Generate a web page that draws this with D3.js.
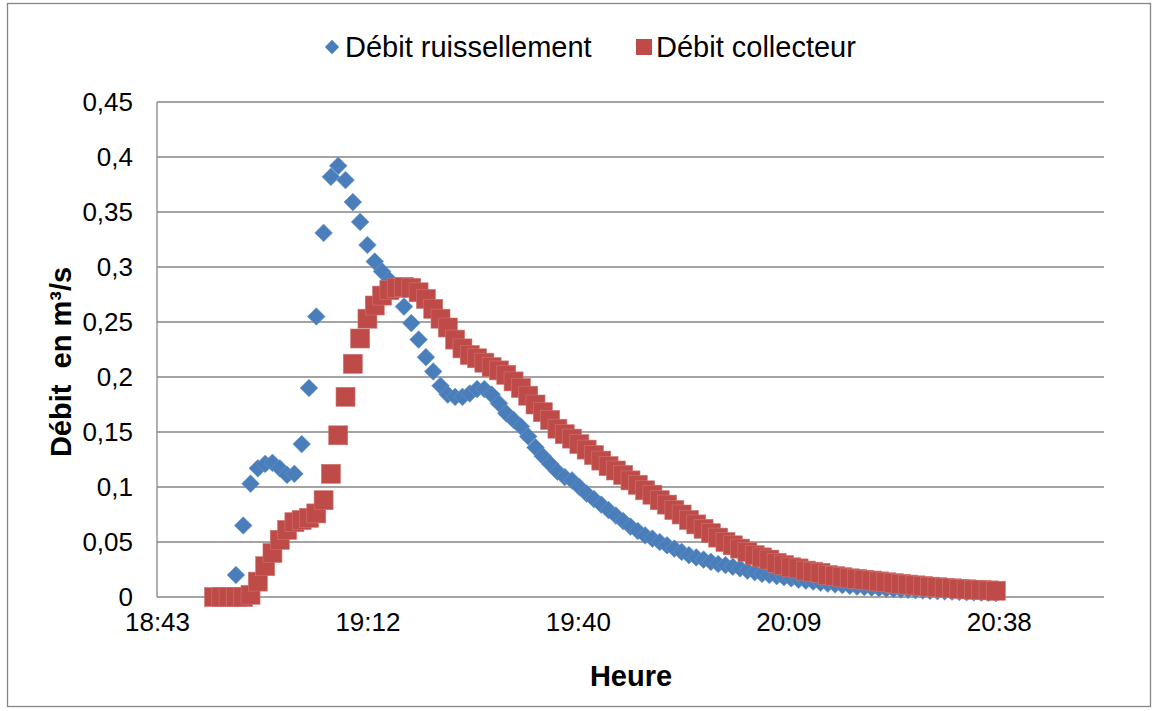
<!DOCTYPE html>
<html>
<head>
<meta charset="utf-8">
<script src="https://cdn.jsdelivr.net/npm/d3@7"></script>
<style>
  body { margin: 0; background: #fff; }
  text { font-family: Arial, "Liberation Sans", sans-serif; fill: #000; }
</style>
</head>
<body>
<script>
// relevés minute par minute
const times = [
  "18:51","18:52","18:53","18:54","18:55","18:56","18:57","18:58","18:59",
  "19:00","19:01","19:02","19:03","19:04","19:05","19:06","19:07","19:08","19:09",
  "19:10","19:11","19:12","19:13","19:14","19:15","19:16","19:17","19:18","19:19",
  "19:20","19:21","19:22","19:23","19:24","19:25","19:26","19:27","19:28","19:29",
  "19:30","19:31","19:32","19:33","19:34","19:35","19:36","19:37","19:38","19:39",
  "19:40","19:41","19:42","19:43","19:44","19:45","19:46","19:47","19:48","19:49",
  "19:50","19:51","19:52","19:53","19:54","19:55","19:56","19:57","19:58","19:59",
  "20:00","20:01","20:02","20:03","20:04","20:05","20:06","20:07","20:08","20:09",
  "20:10","20:11","20:12","20:13","20:14","20:15","20:16","20:17","20:18","20:19",
  "20:20","20:21","20:22","20:23","20:24","20:25","20:26","20:27","20:28","20:29",
  "20:30","20:31","20:32","20:33","20:34","20:35","20:36","20:37","20:38"
];

const ruissellement = [
  0, 0, 0, 0.020, 0.065, 0.103, 0.117, 0.121, 0.122, 0.117,
  0.111, 0.112, 0.139, 0.190, 0.255, 0.331, 0.382, 0.392, 0.379, 0.359,
  0.341, 0.320, 0.305, 0.296, 0.288, 0.278, 0.264, 0.249, 0.234, 0.218,
  0.205, 0.192, 0.184, 0.182, 0.182, 0.185, 0.189, 0.189, 0.184, 0.176,
  0.167, 0.161, 0.155, 0.146, 0.136, 0.128, 0.121, 0.114, 0.109, 0.106,
  0.100, 0.094, 0.089, 0.084, 0.079, 0.074, 0.069, 0.064, 0.060, 0.056,
  0.053, 0.050, 0.047, 0.044, 0.041, 0.038, 0.036, 0.034, 0.032, 0.030,
  0.029, 0.0275, 0.026, 0.024, 0.0225, 0.021, 0.020, 0.019, 0.018, 0.017,
  0.0157, 0.0148, 0.014, 0.013, 0.0122, 0.0115, 0.0108, 0.0101, 0.0095, 0.009,
  0.0085, 0.008, 0.0076, 0.0072, 0.0068, 0.0065, 0.0062, 0.0059, 0.0056, 0.0053,
  0.0051, 0.0049, 0.0046, 0.0044, 0.0042, 0.004, 0.0037, 0.0035
];

const collecteur = [
  0, 0, 0, 0, 0, 0.002, 0.014, 0.028, 0.040, 0.052,
  0.061, 0.068, 0.070, 0.072, 0.076, 0.088, 0.112, 0.147, 0.182, 0.212,
  0.235, 0.253, 0.265, 0.274, 0.279, 0.281, 0.282, 0.281, 0.277, 0.271,
  0.262, 0.253, 0.245, 0.234, 0.226, 0.220, 0.217, 0.213, 0.209, 0.206,
  0.202, 0.196, 0.190, 0.183, 0.175, 0.168, 0.161, 0.153, 0.148, 0.144,
  0.139, 0.134, 0.129, 0.124, 0.119, 0.115, 0.111, 0.106, 0.102, 0.097,
  0.093, 0.088, 0.084, 0.079, 0.075, 0.070, 0.066, 0.062, 0.058, 0.054,
  0.050, 0.047, 0.044, 0.041, 0.038, 0.036, 0.034, 0.031, 0.029, 0.027,
  0.026, 0.024, 0.023, 0.022, 0.020, 0.019, 0.018, 0.017, 0.0165, 0.0157,
  0.015, 0.0142, 0.0134, 0.0126, 0.012, 0.0113, 0.0106, 0.010, 0.0094, 0.0089,
  0.0084, 0.0079, 0.0074, 0.0070, 0.0066, 0.0063, 0.006, 0.0057
];

// axe des temps en fraction de jour (comme Excel)
const xTicks = [0.78, 0.80, 0.82, 0.84, 0.86];
const xTickLabels = ["18:43", "19:12", "19:40", "20:09", "20:38"];
const yTicks = [0, 0.05, 0.1, 0.15, 0.2, 0.25, 0.3, 0.35, 0.4, 0.45];
const yTickLabels = ["0", "0,05", "0,1", "0,15", "0,2", "0,25", "0,3", "0,35", "0,4", "0,45"];

const W = 1157, H = 711;
const plot = { left: 157, right: 1104, top: 102, bottom: 597 };

const blue = "#4a7ebb", red = "#be4b48";

const toDay = s => {
  const [h, m] = s.split(":").map(Number);
  return (h * 60 + m) / 1440;
};

const x = d3.scaleLinear().domain([0.78, 0.87]).range([plot.left, plot.right]);
const y = d3.scaleLinear().domain([0, 0.45]).range([plot.bottom, plot.top]);

const svg = d3.select("body").append("svg")
  .attr("width", W)
  .attr("height", H);

// cadre du graphique
svg.append("rect")
  .attr("x", 7.5).attr("y", 3.5)
  .attr("width", 1143).attr("height", 703)
  .attr("fill", "#fff")
  .attr("stroke", "#868686")
  .attr("stroke-width", 1.3);

// quadrillage horizontal
svg.append("g")
  .selectAll("line")
  .data(yTicks)
  .join("line")
  .attr("x1", plot.left).attr("x2", plot.right)
  .attr("y1", d => y(d)).attr("y2", d => y(d))
  .attr("stroke", "#868686")
  .attr("stroke-width", 1.3);

// axe vertical
svg.append("line")
  .attr("x1", plot.left).attr("x2", plot.left)
  .attr("y1", plot.top).attr("y2", plot.bottom)
  .attr("stroke", "#868686")
  .attr("stroke-width", 1.3);

const yAxis = d3.axisLeft(y)
  .tickValues(yTicks)
  .tickFormat((d, i) => yTickLabels[i])
  .tickSize(0)
  .tickPadding(24);

svg.append("g")
  .attr("transform", "translate(" + plot.left + ",0)")
  .call(yAxis)
  .call(g => g.select(".domain").remove())
  .selectAll("text")
  .attr("font-size", 26)
  .attr("font-family", "Arial, 'Liberation Sans', sans-serif")
  .attr("fill", "#000");

const xAxis = d3.axisBottom(x)
  .tickValues(xTicks)
  .tickFormat((d, i) => xTickLabels[i])
  .tickSize(0)
  .tickPadding(16);

svg.append("g")
  .attr("transform", "translate(0," + plot.bottom + ")")
  .call(xAxis)
  .call(g => g.select(".domain").remove())
  .selectAll("text")
  .attr("font-size", 26)
  .attr("font-family", "Arial, 'Liberation Sans', sans-serif")
  .attr("fill", "#000");

// séries
const diamond = d3.symbol().type(d3.symbolDiamond2).size(200);

svg.append("g")
  .selectAll("path")
  .data(times.map((t, i) => ({ t: toDay(t), v: ruissellement[i] })))
  .join("path")
  .attr("d", diamond)
  .attr("transform", d => "translate(" + x(d.t) + "," + y(d.v) + ")")
  .attr("fill", blue)
  .attr("stroke", "#6a95c9")
  .attr("stroke-width", 0.6);

const sq = 19;
svg.append("g")
  .selectAll("rect")
  .data(times.map((t, i) => ({ t: toDay(t), v: collecteur[i] })))
  .join("rect")
  .attr("x", d => x(d.t) - sq / 2)
  .attr("y", d => y(d.v) - sq / 2)
  .attr("width", sq).attr("height", sq)
  .attr("fill", red)
  .attr("stroke", "#cf7472")
  .attr("stroke-width", 0.6);

// titres des axes
svg.append("text")
  .attr("x", 631).attr("y", 686)
  .attr("text-anchor", "middle")
  .attr("font-size", 29)
  .attr("font-weight", "bold")
  .text("Heure");

svg.append("text")
  .attr("transform", "translate(71,362) rotate(-90)")
  .attr("text-anchor", "middle")
  .attr("font-size", 29)
  .attr("font-weight", "bold")
  .style("white-space", "pre")
  .text("Débit  en m³/s");

// légende
const legend = svg.append("g");
legend.append("path")
  .attr("d", d3.symbol().type(d3.symbolDiamond2).size(130))
  .attr("transform", "translate(332,47)")
  .attr("fill", blue);
legend.append("text")
  .attr("x", 345).attr("y", 57)
  .attr("font-size", 29)
  .text("Débit ruissellement");
legend.append("rect")
  .attr("x", 636).attr("y", 39)
  .attr("width", 16).attr("height", 16)
  .attr("fill", red);
legend.append("text")
  .attr("x", 656).attr("y", 57)
  .attr("font-size", 29)
  .text("Débit collecteur");
</script>
</body>
</html>
